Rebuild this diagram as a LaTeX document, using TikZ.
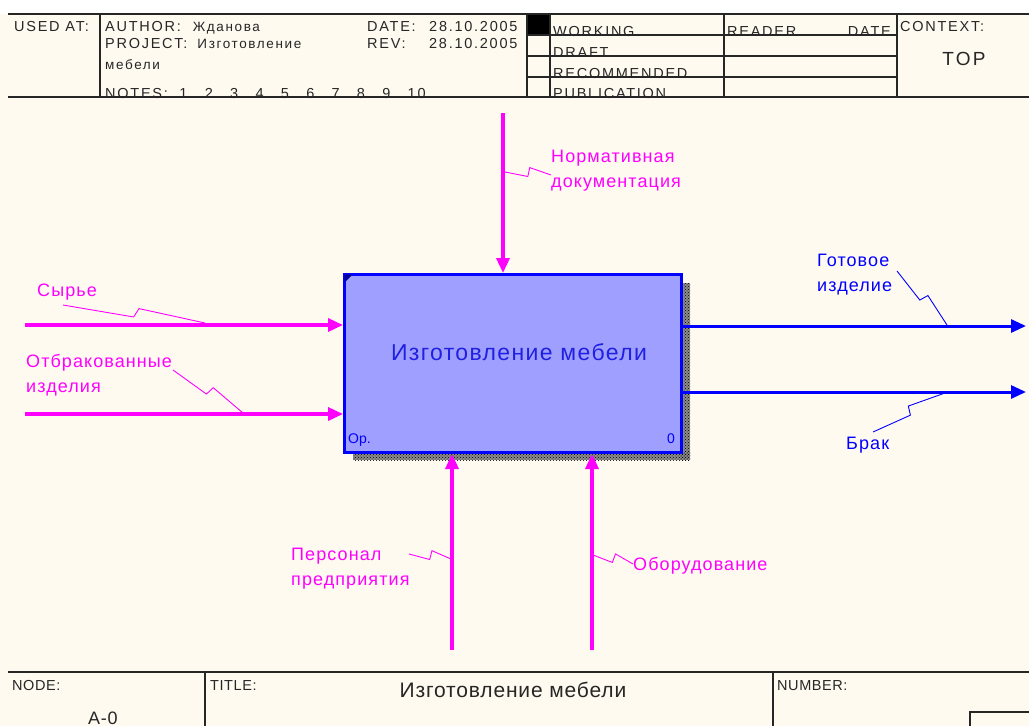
\documentclass[tikz,border=0pt]{standalone}
\usepackage{fontspec}
\setmainfont{Liberation Sans}
\newfontfamily\hdr[LetterSpace=12]{Liberation Sans}
\newfontfamily\lbl[LetterSpace=6]{Liberation Sans}
\newfontfamily\ftr[LetterSpace=4]{Liberation Sans}
\usetikzlibrary{arrows.meta,calc,patterns}
\definecolor{cream}{HTML}{FFFAF0}
\definecolor{mag}{HTML}{FF00FF}
\definecolor{bblue}{HTML}{0000FF}
\definecolor{boxfill}{HTML}{9F9FFF}
\definecolor{boxtxt}{HTML}{2020E0}
\tikzset{
  frameline/.style={draw=black!85, line width=1.3pt},
  hdrtext/.style={font={\hdr\fontsize{14.5}{17}\selectfont}, inner sep=0, anchor=base west, text=black!85},
  hdrsmall/.style={hdrtext, font={\hdr\fontsize{13.5}{16}\selectfont}},
  ftrtext/.style={font={\ftr\fontsize{14.5}{17}\selectfont}, inner sep=0, anchor=base west, text=black!85},
  magarrow/.style={draw=mag, line width=3.5pt, -{Triangle[length=15pt,width=13pt]}},
  bluearrow/.style={draw=bblue, line width=3pt, -{Triangle[length=15pt,width=13pt]}},
  maglabel/.style={font={\lbl\fontsize{18}{25}\selectfont}, text=mag, inner sep=0, align=left},
  bluelabel/.style={font={\lbl\fontsize{18}{25}\selectfont}, text=bblue, inner sep=0, align=left},
  squig/.style={line width=0.9pt, to path={-- ($(\tikztostart)!0.5!(\tikztotarget)!3pt!-90:(\tikztotarget)$) -- ($(\tikztostart)!0.53!(\tikztotarget)!6pt!90:(\tikztotarget)$) -- (\tikztotarget)}},
}
\begin{document}
\begin{tikzpicture}[x=1pt,y=-1pt]
\useasboundingbox (0,0) rectangle (1029,726);
\fill[white] (0,0) rectangle (1029,14);
\fill[cream] (0,14) rectangle (1029,726);

% ---------- header ----------
\fill[black] (527,14) rectangle (550,35);
\node[hdrtext] (usedat) at (14,31) {USED AT:};
\node[hdrtext] (author) at (105,31) {AUTHOR:\hspace{12pt}\hdr\fontsize{13.5}{16}\selectfont Жданова};
\node[hdrtext] (project) at (105,48) {PROJECT:\hspace{10pt}\hdr\fontsize{13.5}{16}\selectfont Изготовление};
\node[hdrsmall] (projname2) at (105,69) {мебели};
\node[hdrtext] (notes) at (105,98) {NOTES:\ \ 1\ \ \ 2\ \ \ 3\ \ \ 4\ \ \ 5\ \ \ 6\ \ \ 7\ \ \ 8\ \ \ 9\ \ \ 10};
\node[hdrtext] (date) at (367,31) {\makebox[62pt][l]{DATE:}28.10.2005};
\node[hdrtext] (rev) at (367,48) {\makebox[62pt][l]{REV:}28.10.2005};
\node[hdrtext] (working) at (553,36) {WORKING};
\node[hdrtext] (draft) at (553,57) {DRAFT};
\node[hdrtext] (recom) at (553,78) {RECOMMENDED};
\node[hdrtext] (publ) at (553,98) {PUBLICATION};
\node[hdrtext] (reader) at (727,36) {READER};
\node[hdrtext, anchor=base east] (rdate) at (891,36) {DATE};
\node[hdrtext] (context) at (900,31) {CONTEXT:};
\node[hdrtext, anchor=base, font={\hdr\fontsize{19}{22}\selectfont}] (top) at (964,65) {TOP};

\draw[frameline] (8,14) -- (1029,14);
\draw[frameline] (8,97) -- (1029,97);
\draw[frameline] (100,14) -- (100,97);
\draw[frameline] (527,14) -- (527,97);
\draw[frameline] (550,14) -- (550,97);
\draw[frameline] (724,14) -- (724,97);
\draw[frameline] (897,14) -- (897,97);
\draw[frameline] (527,35) -- (897,35);
\draw[frameline] (527,56) -- (897,56);
\draw[frameline] (527,77) -- (897,77);

% ---------- footer ----------
\draw[frameline] (8,672) -- (1029,672);
\draw[frameline] (205,672) -- (205,726);
\draw[frameline] (773,672) -- (773,726);
\draw[frameline] (970,726) -- (970,712) -- (1029,712);
\node[ftrtext] (nodelbl) at (12,690) {NODE:};
\node[ftrtext, font={\ftr\fontsize{18}{21}\selectfont}] (nodeval) at (88,724) {А-0};
\node[ftrtext] (titlelbl) at (210,690) {TITLE:};
\node[ftrtext, anchor=base, font={\ftr\fontsize{21}{24}\selectfont}] (titleval) at (513,697) {Изготовление мебели};
\node[ftrtext] (numberlbl) at (777,690) {NUMBER:};

% ---------- activity box ----------
\fill[black!45] (680,283) rectangle (690,460);
\fill[black!45] (353,451) rectangle (690,460);
\fill[pattern=crosshatch dots, pattern color=black] (680,283) rectangle (690,460);
\fill[pattern=crosshatch dots, pattern color=black] (353,451) rectangle (690,460);
\node[draw=bblue, fill=boxfill, line width=3pt, minimum width=337pt, minimum height=178pt, inner sep=0, anchor=north west] (box) at (343,273) {};
\node[font={\lbl\fontsize{23}{26}\selectfont}, text=boxtxt, inner sep=0, anchor=base] (boxtext) at (519,360) {Изготовление мебели};
\fill[bblue!60!black] (box.north west) ++(1.5,1.5) -- ++(8,0) -- ++(-8,8) -- cycle;
\node[font={\fontsize{14}{16}\selectfont}, text=bblue, inner sep=0, anchor=base west] (opnum) at (348,443) {Ор.};
\node[font={\fontsize{14}{16}\selectfont}, text=bblue, inner sep=0, anchor=base east] (boxnum) at (675,443) {0};

% ---------- arrows ----------
\coordinate (ctlS) at (503,113);
\draw[magarrow] (ctlS) -- (ctlS |- box.north);
\coordinate (in1S) at (25,325);
\draw[magarrow] (in1S) -- (in1S -| box.west);
\coordinate (in2S) at (25,414);
\draw[magarrow] (in2S) -- (in2S -| box.west);
\coordinate (m1S) at (452,650);
\draw[magarrow] (m1S) -- (m1S |- box.south);
\coordinate (m2S) at (592,650);
\draw[magarrow] (m2S) -- (m2S |- box.south);
\coordinate (out1E) at (1026,326);
\draw[bluearrow] (out1E -| box.east) -- (out1E);
\coordinate (out2E) at (1026,392);
\draw[bluearrow] (out2E -| box.east) -- (out2E);

% ---------- labels ----------
\node[maglabel, anchor=north west] (lctl) at (551,150) {Нормативная\\документация};
\node[maglabel, anchor=north west] (lin1) at (37,284) {Сырье};
\node[maglabel, anchor=north west] (lin2) at (26,354) {Отбракованные\\изделия};
\node[maglabel, anchor=north west] (lm1) at (291,548) {Персонал\\предприятия};
\node[maglabel, anchor=north west] (lm2) at (633,557) {Оборудование};
\node[bluelabel, anchor=north west] (lout1) at (817,254) {Готовое\\изделие};
\node[bluelabel, anchor=north west] (lout2) at (846,437) {Брак};

% ---------- squiggles ----------
\coordinate (sq1a) at (505,172); \coordinate (sq1b) at (551,175);
\draw[mag, squig] (sq1a) to (sq1b);
\coordinate (sq2a) at (63,305); \coordinate (sq2b) at (205,323);
\draw[mag, squig] (sq2a) to (sq2b);
\coordinate (sq3a) at (173,370); \coordinate (sq3b) at (243,413);
\draw[mag, squig] (sq3a) to (sq3b);
\coordinate (sq4a) at (409,554); \coordinate (sq4b) at (451,559);
\draw[mag, squig] (sq4a) to (sq4b);
\coordinate (sq5a) at (593,555); \coordinate (sq5b) at (633,564);
\draw[mag, squig] (sq5a) to (sq5b);
\coordinate (sq6a) at (897,271); \coordinate (sq6b) at (947,325);
\draw[bblue, squig] (sq6a) to (sq6b);
\coordinate (sq7a) at (873,432); \coordinate (sq7b) at (945,393);
\draw[bblue, squig] (sq7a) to (sq7b);
\end{tikzpicture}
\end{document}
